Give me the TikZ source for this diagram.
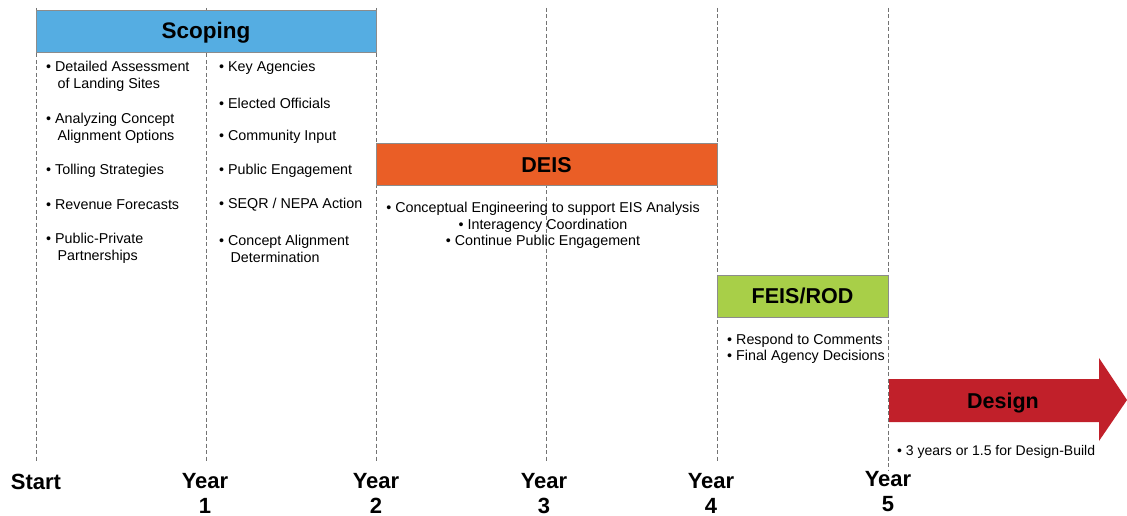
\documentclass[tikz,border=0pt]{standalone}
\usepackage{fontspec}
\setmainfont{Liberation Sans}
\usepackage{tikz}
\tikzset{%
    phase/.style={draw=black!45,line width=0.6pt,minimum height=42pt,inner sep=0pt,text height=16pt,text depth=0.6pt,font=\fontsize{21.5}{25}\selectfont\bfseries},
    item/.style={anchor=west,align=left,inner sep=0pt,font=\fontsize{14.3}{17}\selectfont},
    tick/.style={align=center,inner sep=0pt,font=\fontsize{22}{25}\selectfont\bfseries}
}
\definecolor{scopeblue}{RGB}{85,173,226}
\definecolor{deisorange}{RGB}{234,94,38}
\definecolor{feisgreen}{RGB}{168,207,72}
\definecolor{designred}{RGB}{193,32,42}

\begin{document}
\begin{tikzpicture}[
                x=1pt,y=-1pt,
                grid/.style={draw=black!55,line width=0.6pt,dash pattern=on 4pt off 2.5pt}
            ]
            \useasboundingbox (0,0) rectangle (1127,516);

            \foreach \px/\nm in {36/s,206/a,376/b,546/c,717/d}{
                \coordinate (\nm top) at (\px,8);
                \coordinate (\nm bot) at (\px,462);
            }
            \coordinate (etop) at (888,8);
            \coordinate (ebot) at (888,470);
            \foreach \nm in {s,a,b,c,d,e}
                \draw[grid] (\nm top) -- (\nm bot);

            \node[phase,fill=scopeblue,minimum width=340pt,font=\fontsize{22.5}{26}\selectfont\bfseries] (scoping) at (206,31) {Scoping};
            \node[phase,fill=deisorange,minimum width=341pt] (deis) at (546.5,164.5) {DEIS};
            \node[phase,fill=feisgreen,minimum width=171pt] (feis) at (802.5,296) {FEIS/ROD};

            \fill[designred] (889,379) -- (1099,379) -- (1099,358) -- (1127,400)
                -- (1099,441) -- (1099,422) -- (889,422) -- cycle;
            \node[phase,draw=none,minimum height=0pt] (design) at (1003,401) {Design};

            \node[item] (s1) at (46,76.5) {• Detailed Assessment\\\phantom{• }\,of Landing Sites};
            \node[item] (s2) at (46,128.5) {• Analyzing Concept\\\phantom{• }\,Alignment Options};
            \node[item] (s3) at (46,171) {• Tolling Strategies};
            \node[item] (s4) at (46,205) {• Revenue Forecasts};
            \node[item] (s5) at (46,248.5) {• Public-Private\\\phantom{• }\,Partnerships};

            \node[item] (k1) at (219,68) {• Key Agencies};
            \node[item] (k2) at (219,103) {• Elected Officials};
            \node[item] (k3) at (219,137) {• Community Input};
            \node[item] (k4) at (219,171) {• Public Engagement};
            \node[item] (k5) at (219,205) {• SEQR / NEPA Action};
            \node[item] (k6) at (219,248.5) {• Concept Alignment\\\phantom{• }\,Determination};

            \node[item,anchor=center,align=center,font=\fontsize{14.3}{16.5}\selectfont] (d1) at (543,225.5) {• Conceptual Engineering to support EIS Analysis\\• Interagency Coordination\\• Continue Public Engagement};
            \node[item,font=\fontsize{14.3}{16.5}\selectfont] (f1) at (727,349) {• Respond to Comments\\• Final Agency Decisions};
            \node[item,font=\fontsize{14}{16}\selectfont] (e1) at (897,452) {• 3 years or 1.5 for Design-Build};

            \node[tick] (t0) at (36,482) {Start};
            \node[tick] (t1) at (205,493.5) {Year\\1};
            \node[tick] (t2) at (376,493.5) {Year\\2};
            \node[tick] (t3) at (544,493.5) {Year\\3};
            \node[tick] (t4) at (711,493.5) {Year\\4};
            \node[tick] (t5) at (888,492) {Year\\5};
        \end{tikzpicture}
\end{document}
